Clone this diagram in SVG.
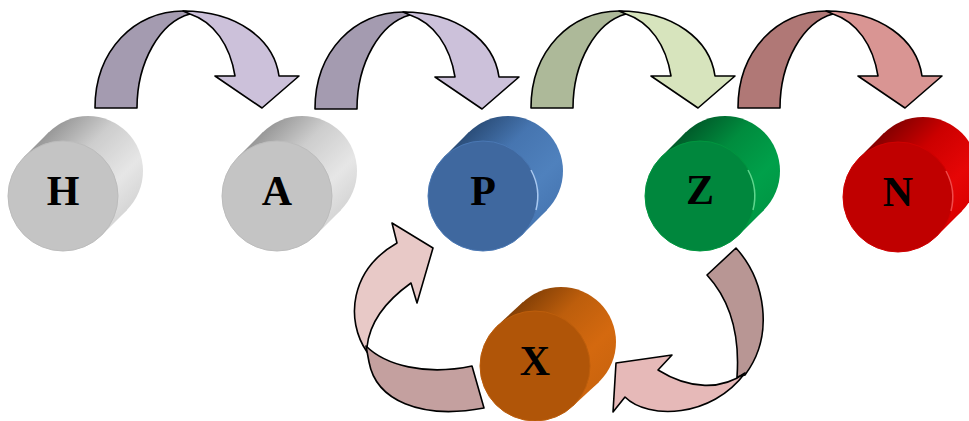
<svg xmlns="http://www.w3.org/2000/svg" xmlns:xlink="http://www.w3.org/1999/xlink" width="969" height="421" viewBox="0 0 969 421">
<defs>
  <linearGradient id="gGray" gradientUnits="userSpaceOnUse" x1="-39" y1="-39" x2="39" y2="39">
    <stop offset="0" stop-color="#989898"/><stop offset="0.35" stop-color="#cdcdcd"/><stop offset="0.75" stop-color="#e6e6e6"/><stop offset="1" stop-color="#d6d6d6"/>
  </linearGradient>
  <linearGradient id="gBlue" gradientUnits="userSpaceOnUse" x1="-39" y1="-39" x2="39" y2="39">
    <stop offset="0" stop-color="#2b4e7a"/><stop offset="0.35" stop-color="#4675b0"/><stop offset="0.75" stop-color="#4f81bd"/><stop offset="1" stop-color="#4878b4"/>
  </linearGradient>
  <linearGradient id="gGreen" gradientUnits="userSpaceOnUse" x1="-39" y1="-39" x2="39" y2="39">
    <stop offset="0" stop-color="#005c2a"/><stop offset="0.35" stop-color="#008c3e"/><stop offset="0.75" stop-color="#00a04a"/><stop offset="1" stop-color="#009845"/>
  </linearGradient>
  <linearGradient id="gRed" gradientUnits="userSpaceOnUse" x1="-39" y1="-39" x2="39" y2="39">
    <stop offset="0" stop-color="#850000"/><stop offset="0.35" stop-color="#cc0000"/><stop offset="0.75" stop-color="#e60606"/><stop offset="1" stop-color="#dc0000"/>
  </linearGradient>
  <linearGradient id="gOrange" gradientUnits="userSpaceOnUse" x1="-39" y1="-39" x2="39" y2="39">
    <stop offset="0" stop-color="#844006"/><stop offset="0.35" stop-color="#bd5e0c"/><stop offset="0.75" stop-color="#d4690f"/><stop offset="1" stop-color="#cc650e"/>
  </linearGradient>
  <path id="arcDark" d="M95,108 C95,50 135,11 183,11 C186,11 189,12 190,14 C160,22 137,62 137,108 Z"/>
  <path id="arcLight" d="M183,11 C238,11 274,40 279,76 L299,76 L262,108 L215,76 L235,76 C230,45 214,22 190,14 Z"/>
</defs>
<style>
  .arc { stroke:#000; stroke-width:1.6; stroke-linejoin:round; }
  .lbl { font-family:"Liberation Serif","Times New Roman",serif; font-weight:bold; font-size:42px; fill:#000; text-anchor:middle; }
  .rim { fill:none; stroke-width:1.5; }
</style>

<g id="connectors">
  <g id="arrow-H-A">
    <use href="#arcDark" class="arc" fill="#a49bb0"/>
    <use href="#arcLight" class="arc" fill="#ccc1da"/>
  </g>
  <g id="arrow-A-P" transform="translate(220,1)">
    <use href="#arcDark" class="arc" fill="#a49bb0"/>
    <use href="#arcLight" class="arc" fill="#ccc1da"/>
  </g>
  <g id="arrow-P-Z" transform="translate(436,0)">
    <use href="#arcDark" class="arc" fill="#adb999"/>
    <use href="#arcLight" class="arc" fill="#d7e4bd"/>
  </g>
  <g id="arrow-Z-N" transform="translate(643,0)">
    <use href="#arcDark" class="arc" fill="#b07876"/>
    <use href="#arcLight" class="arc" fill="#d99593"/>
  </g>
  <g id="arrow-X-P">
    <path class="arc" fill="#e8c9c7" d="M392,223 L433,248 L417,303 L411,283 C390,298 370,318 367,347 L367,352 C345,320 350,270 397,243 Z"/>
    <path class="arc" fill="#c4a09f" d="M366,346 C385,365 425,376 472,366 L484,408 C420,420 376,400 369,362 Z"/>
  </g>
  <g id="arrow-Z-X">
    <path class="arc" fill="#b89694" d="M707,275 L736,248 C765,280 775,335 745,375 L737,377 C740,335 730,300 707,275 Z"/>
    <path class="arc" fill="#e6b9b8" d="M745,373 C722,390 690,390 658,370 L672,355 L616,363 L613,412 L625,397 C648,420 712,418 745,373 Z"/>
  </g>
</g>

<g id="node-H" transform="translate(63,196)">
  <circle cx="25" cy="-25" r="55" fill="url(#gGray)"/>
  <polygon points="39,39 -39,-39 -14,-64 64,14" fill="url(#gGray)"/>
  <circle r="55" fill="#c4c4c4" stroke="#bcbcbc" stroke-width="1"/>
  <text class="lbl" x="0" y="9">H</text>
</g>
<g id="node-A" transform="translate(277,196)">
  <circle cx="25" cy="-25" r="55" fill="url(#gGray)"/>
  <polygon points="39,39 -39,-39 -14,-64 64,14" fill="url(#gGray)"/>
  <circle r="55" fill="#c4c4c4" stroke="#bcbcbc" stroke-width="1"/>
  <text class="lbl" x="0" y="9">A</text>
</g>
<g id="node-P" transform="translate(483,196)">
  <circle cx="25" cy="-25" r="55" fill="url(#gBlue)"/>
  <polygon points="39,39 -39,-39 -14,-64 64,14" fill="url(#gBlue)"/>
  <circle r="55" fill="#3f689f" stroke="#4a78b4" stroke-width="1"/>
  <path class="rim" stroke="#a8c8f0" d="M53,14 A55,55 0 0 0 48,-26"/>
  <text class="lbl" x="0" y="9">P</text>
</g>
<g id="node-Z" transform="translate(700,196)">
  <circle cx="25" cy="-25" r="55" fill="url(#gGreen)"/>
  <polygon points="39,39 -39,-39 -14,-64 64,14" fill="url(#gGreen)"/>
  <circle r="55" fill="#00873d" stroke="#00963f" stroke-width="1"/>
  <path class="rim" stroke="#5ed68e" d="M53,14 A55,55 0 0 0 48,-26"/>
  <text class="lbl" x="0" y="8">Z</text>
</g>
<g id="node-N" transform="translate(898,197)">
  <circle cx="25" cy="-25" r="55" fill="url(#gRed)"/>
  <polygon points="39,39 -39,-39 -14,-64 64,14" fill="url(#gRed)"/>
  <circle r="55" fill="#c00000" stroke="#d00000" stroke-width="1"/>
  <path class="rim" stroke="#f04a4a" d="M53,14 A55,55 0 0 0 48,-26"/>
  <text class="lbl" x="0" y="9">N</text>
</g>
<g id="node-X" transform="translate(535,366)">
  <circle cx="26" cy="-24" r="55" fill="url(#gOrange)"/>
  <polygon points="38,40 -38,-40 -12,-64 64,16" fill="url(#gOrange)"/>
  <circle r="55" fill="#b05508" stroke="#bd5e0c" stroke-width="1"/>
  <text class="lbl" x="0" y="9">X</text>
</g>
</svg>
